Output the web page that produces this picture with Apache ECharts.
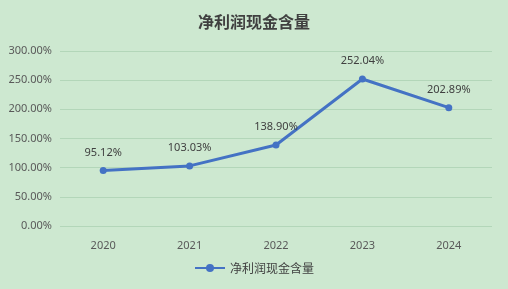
<!DOCTYPE html>
<html><head><meta charset="utf-8">
<script src="https://cdn.jsdelivr.net/npm/echarts@6/dist/echarts.min.js"></script>
<style>html,body{margin:0;padding:0;background:#cde8d0;}#c{width:508px;height:289px;}</style>
</head><body><div id="c"></div>
<script>
const categories = ['2020','2021','2022','2023','2024'];
const values = [95.12, 103.03, 138.90, 252.04, 202.89];
const seriesName = '净利润现金含量';
const chart = echarts.init(document.getElementById('c'));
chart.setOption({
  backgroundColor: '#cde8d0',
  title: {text: seriesName, left: 'center', top: 9, textStyle: {fontFamily: 'Noto Sans CJK SC', fontSize: 16, fontWeight: 'bold', color: '#404040'}},
  grid: {left: 60, right: 16, top: 51, bottom: 63},
  legend: {bottom: 10, left: 'center', itemWidth: 30, itemHeight: 10, textStyle: {fontFamily: 'Noto Sans CJK SC', fontSize: 12, color: '#404040'}, data: [seriesName]},
  xAxis: {type: 'category', data: categories, axisLine: {show: false}, axisTick: {show: false},
    axisLabel: {color: '#595959', fontSize: 11, fontFamily: 'Noto Sans', margin: 14}},
  yAxis: {type: 'value', min: 0, max: 300, interval: 50,
    axisLabel: {formatter: v => v.toFixed(2) + '%', color: '#595959', fontSize: 11, fontFamily: 'Noto Sans', margin: 8},
    splitLine: {lineStyle: {color: '#b3d6b9', width: 1}}},
  series: [{name: seriesName, type: 'line', data: values, symbol: 'circle', symbolSize: 7,
    lineStyle: {color: '#4472c4', width: 3}, itemStyle: {color: '#4472c4'},
    label: {show: true, position: 'top', distance: 9, formatter: p => p.value.toFixed(2) + '%', color: '#404040', fontSize: 11, fontFamily: 'Noto Sans'}}]
});
</script></body></html>
